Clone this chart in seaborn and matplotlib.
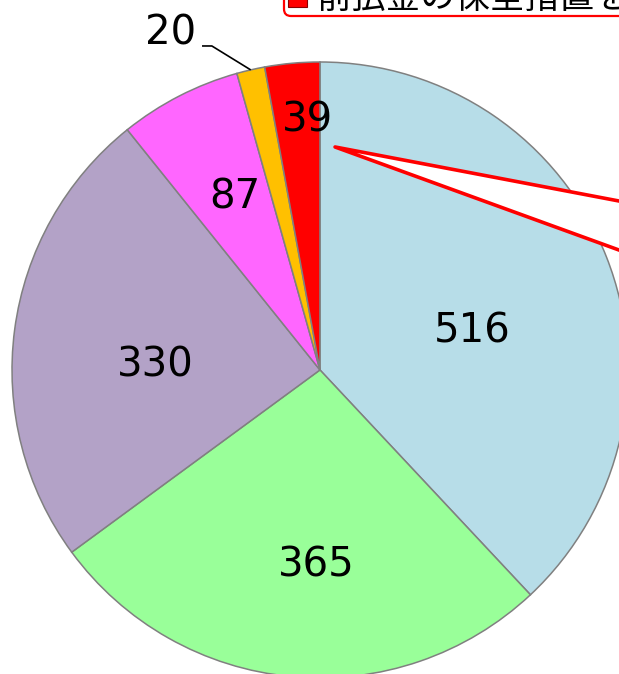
import numpy as np
import matplotlib
matplotlib.use("Agg")
import matplotlib.pyplot as plt
import seaborn as sns
from matplotlib.patches import FancyBboxPatch, Rectangle, Polygon
from matplotlib.transforms import IdentityTransform

# slice values, clockwise from 12 o'clock
values = [516, 365, 330, 87, 20, 39]
labels = ["516", "365", "330", "87", "20", "39"]
colors = ["#B7DDE8", "#99FF99", "#B3A2C7", "#FF66FF", "#FFC000", "#FF0000"]
legend_label = "前払金の保全措置を講じている"

sns.set_theme(style="white")
plt.rcParams['font.family'] = ['DejaVu Sans', 'Noto Sans CJK JP']

fig = plt.figure(figsize=(6.19, 6.74), dpi=100)
ax = fig.add_axes([0, 0, 1, 1])
wedges, _ = ax.pie(values, colors=colors, startangle=90, counterclock=False,
                   wedgeprops=dict(edgecolor="#808080", linewidth=1.1))
ax.set_xlim(-1.039, 0.971)
ax.set_ylim(-0.987, 1.201)
ax.axis('off')

# label placement inside each wedge: radial fraction, fraction along the wedge
label_r = [0.512, 0.624, 0.536, 0.632, None, 0.822]
label_t = [0.545, 0.455, 0.446, 0.556, None, 0.72]
for w, lab, r, t in zip(wedges, labels, label_r, label_t):
    if r is None:
        # small slice: label outside with a leader line
        th = np.deg2rad((w.theta1 + w.theta2) / 2)
        ex, ey = np.cos(th), np.sin(th)
        ax.text(-0.484, 1.091, lab, ha='center', va='center', fontsize=29, color='black')
        ax.plot([-0.383, -0.351, ex], [1.052, 1.052, ey], color='black', lw=1.2,
                solid_capstyle='butt', zorder=5)
    else:
        # counterclock=False: theta2 is the start, theta1 the end
        th = np.deg2rad(w.theta2 - t * (w.theta2 - w.theta1))
        ax.text(r * np.cos(th), r * np.sin(th) - 0.01, lab, ha='center', va='center',
                fontsize=29, color='black', zorder=6)

# callout pointing into the red slice
tip = (0.049, 0.724)
callout = Polygon([tip, (1.3, 0.486), (1.3, 0.270)], closed=True, facecolor='white',
                  edgecolor='#FF0000', lw=2.6, joinstyle='round', zorder=4)
ax.add_patch(callout)

# legend (only its last row is inside the picture)
px = IdentityTransform()
box = FancyBboxPatch((284, 658), 500, 100, boxstyle="round,pad=0,rounding_size=7",
                     transform=px, facecolor='white', edgecolor='#FF0000', lw=1.6)
fig.add_artist(box)
fig.add_artist(Rectangle((288, 667), 19, 20, transform=px, facecolor=colors[-1],
                         edgecolor='#8B0000', lw=0.8))
fig.text(316, 675.5, legend_label, transform=px, ha='left', va='center', fontsize=25,
         family=['Noto Sans CJK JP', 'DejaVu Sans'], color='black')

plt.savefig("out.png", dpi=100)
